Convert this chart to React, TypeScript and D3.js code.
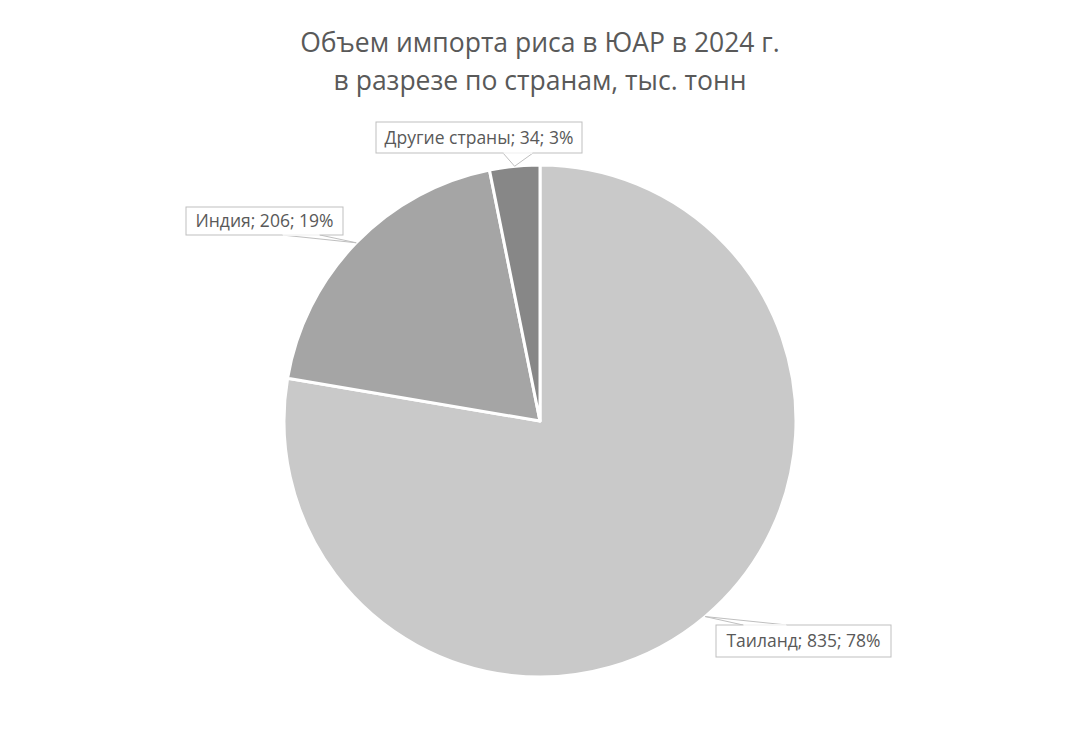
import { useEffect, useRef } from 'react';
import * as d3 from 'd3';

const countries = ['Таиланд', 'Индия', 'Другие страны'];
const volumes = [835, 206, 34];
const colors = ['#c9c9c9', '#a5a5a5', '#878787'];
const titleLines = ['Объем импорта риса в ЮАР в 2024 г.', 'в разрезе по странам, тыс. тонн'];

// label boxes: [x, y, w, h] and wedge base on box edge [x1, x2, y]
const labelBoxes = [
    { x: 716, y: 625, w: 175, h: 32, base: [743, 787, 625] },
    { x: 186, y: 207, w: 157, h: 28, base: [282, 320, 235] },
    { x: 376, y: 122, w: 206, h: 31, base: [503, 533, 153] },
];

const App = () => {
    const svgRef = useRef<SVGSVGElement | null>(null);

    useEffect(() => {
        const width = 1080;
        const height = 744;
        const cx = 540;
        const cy = 421;
        const r = 256;

        const svg = d3.select(svgRef.current);
        svg.selectAll('*').remove();
        svg.attr('viewBox', [0, 0, width, height]).attr('width', width).attr('height', height);

        svg.append('rect')
            .attr('x', 1).attr('y', 1)
            .attr('width', width - 2).attr('height', height - 2)
            .attr('fill', 'white')
            .attr('stroke', '#d9d9d9')
            .attr('stroke-width', 2);

        svg.append('g')
            .selectAll('text')
            .data(titleLines)
            .join('text')
            .attr('x', cx)
            .attr('y', (_, i) => 52 + i * 38)
            .attr('text-anchor', 'middle')
            .attr('font-family', 'Open Sans, Noto Sans, sans-serif')
            .attr('font-size', 26.5)
            .attr('fill', '#595959')
            .text(d => d);

        const total = d3.sum(volumes);
        const data = countries.map((c, i) => ({ name: c, value: volumes[i], color: colors[i] }));
        const pie = d3.pie<any>().sort(null).value(d => d.value);
        const arcs = pie(data);
        const arc = d3.arc<any>().innerRadius(0).outerRadius(r);

        const g = svg.append('g').attr('transform', `translate(${cx},${cy})`);
        g.selectAll('path')
            .data(arcs)
            .join('path')
            .attr('d', arc)
            .attr('fill', d => d.data.color)
            .attr('stroke', 'white')
            .attr('stroke-width', 3)
            .attr('stroke-linejoin', 'round');

        const labels = svg.append('g');
        arcs.forEach((a, i) => {
            const box = labelBoxes[i];
            const mid = (a.startAngle + a.endAngle) / 2;
            const px = cx + r * Math.sin(mid);
            const py = cy - r * Math.cos(mid);
            const [bx1, bx2, by] = box.base;

            labels.append('path')
                .attr('d', `M${bx1},${by} L${px},${py} L${bx2},${by}`)
                .attr('fill', 'white')
                .attr('stroke', '#bfbfbf')
                .attr('stroke-width', 1);

            labels.append('rect')
                .attr('x', box.x).attr('y', box.y)
                .attr('width', box.w).attr('height', box.h)
                .attr('fill', 'white')
                .attr('stroke', '#bfbfbf')
                .attr('stroke-width', 1);

            // cover the wedge base on the box edge
            labels.append('line')
                .attr('x1', bx1 + 0.5).attr('x2', bx2 - 0.5)
                .attr('y1', by).attr('y2', by)
                .attr('stroke', 'white')
                .attr('stroke-width', 1.5);

            const pct = Math.round((a.data.value / total) * 100);
            labels.append('text')
                .attr('x', box.x + box.w / 2)
                .attr('y', box.y + box.h / 2 + 6)
                .attr('text-anchor', 'middle')
                .attr('font-family', 'Open Sans, Noto Sans, sans-serif')
                .attr('font-size', 17.5)
                .attr('fill', '#595959')
                .text(`${a.data.name}; ${a.data.value}; ${pct}%`);
        });
    }, []);

    return (
        <div style={{ margin: -8 }}>
            <svg ref={svgRef} style={{ display: 'block' }}></svg>
        </div>
    );
};

export default App;
